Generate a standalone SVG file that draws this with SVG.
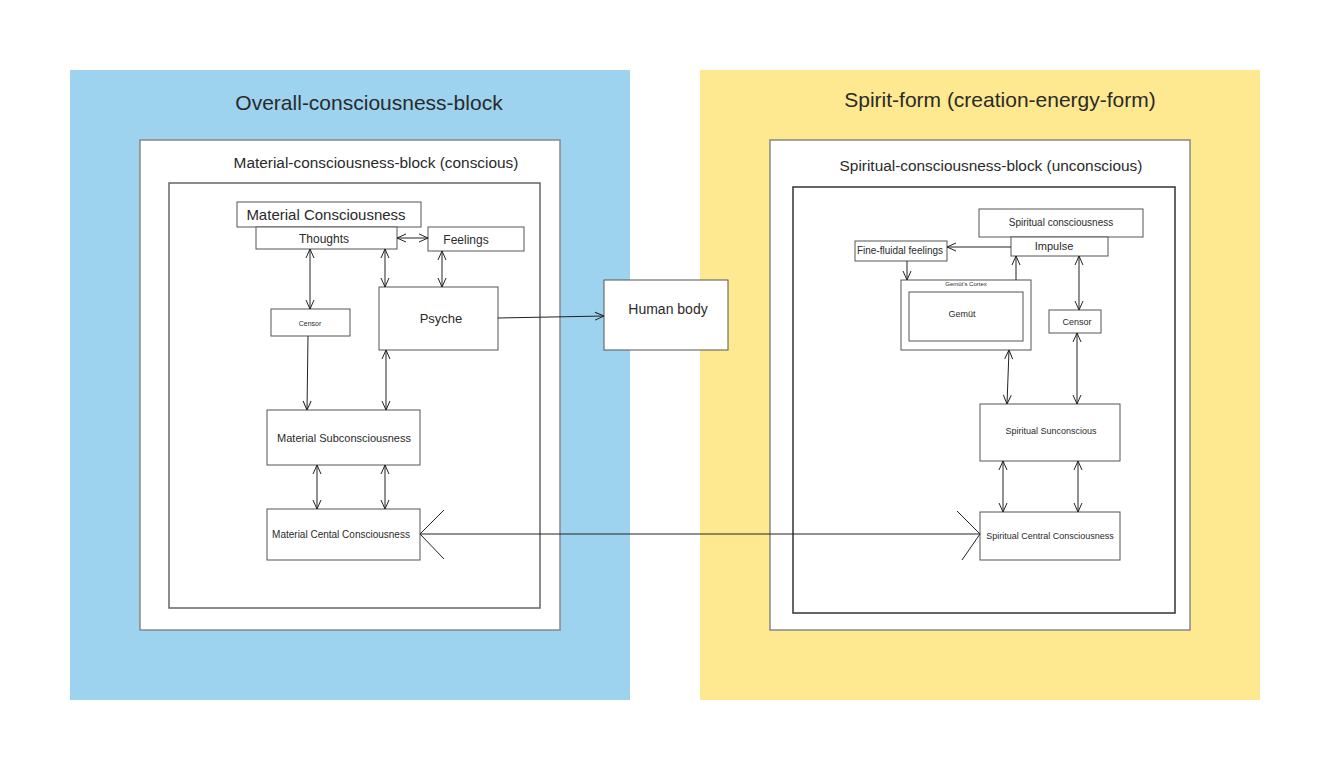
<svg xmlns="http://www.w3.org/2000/svg" width="1330" height="770" viewBox="0 0 1330 770">
<style>
text{font-family:"Liberation Sans",Arial,sans-serif;fill:#2a2a2a;text-anchor:middle}
.box{fill:#fff;stroke:#555;stroke-width:1}
.blk{fill:#fff;stroke:#888;stroke-width:1.5}
.c{fill:none;stroke:#222;stroke-width:1}
.big{fill:none;stroke:#222;stroke-width:1}
</style>
<defs>
<marker id="a" viewBox="0 0 10 10" refX="10" refY="5" markerWidth="10" markerHeight="10" markerUnits="userSpaceOnUse" orient="auto-start-reverse">
<path d="M1,1 L10,5 L1,9" fill="none" stroke="#222" stroke-width="1"/>
</marker>
</defs>
<rect width="1330" height="770" fill="#fff"/>
<g id="overall-block">
<rect x="70" y="70" width="560" height="630" fill="#9DD3EF"/>
<text x="369" y="110" font-size="21" fill="#333">Overall-consciousness-block</text>
</g>
<g id="spirit-form">
<rect x="700" y="70" width="560" height="630" fill="#FFE990"/>
<text x="1000" y="107" font-size="21">Spirit-form (creation-energy-form)</text>
</g>
<g id="material-block">
<rect class="blk" x="140" y="140" width="420" height="490"/>
<text x="376" y="168" font-size="15.4">Material-consciousness-block (conscious)</text>
<rect x="169" y="183" width="371" height="425" fill="#fff" stroke="#666" stroke-width="1.5"/>
</g>
<g id="spiritual-block">
<rect class="blk" x="770" y="140" width="420" height="490"/>
<text x="991" y="171" font-size="15.4">Spiritual-consciousness-block (unconscious)</text>
<rect x="793" y="187" width="382" height="426" fill="#fff" stroke="#333" stroke-width="1.5"/>
</g>
<g id="material-consciousness"><rect class="box" x="237" y="202" width="184" height="25"/><text x="326" y="220" font-size="15">Material Consciousness</text></g>
<g id="thoughts"><rect class="box" x="256" y="227" width="141" height="22"/><text x="324" y="243" font-size="12">Thoughts</text></g>
<g id="feelings"><rect class="box" x="428" y="227" width="96" height="24"/><text x="466" y="244" font-size="12">Feelings</text></g>
<g id="psyche"><rect class="box" x="379" y="287" width="119" height="63"/><text x="441" y="323" font-size="13">Psyche</text></g>
<g id="censor-m"><rect class="box" x="271" y="309" width="79" height="27"/><text x="310" y="326" font-size="7">Censor</text></g>
<g id="material-subconsciousness"><rect class="box" x="267" y="410" width="153" height="55"/><text x="344" y="442" font-size="11">Material Subconsciousness</text></g>
<g id="material-central"><rect class="box" x="267" y="509" width="153" height="51"/><text x="341" y="538" font-size="10">Material Cental Consciousness</text></g>
<g id="human-body"><rect class="box" x="604" y="280" width="124" height="70"/><text x="668" y="314" font-size="14">Human body</text></g>
<g id="spiritual-consciousness"><rect class="box" x="979" y="209" width="164" height="28"/><text x="1061" y="226" font-size="10">Spiritual consciousness</text></g>
<g id="impulse"><rect class="box" x="1011" y="237" width="97" height="19"/><text x="1054" y="250" font-size="11">Impulse</text></g>
<g id="fine-fluidal"><rect class="box" x="855" y="241" width="92" height="20"/><text x="900" y="254" font-size="10">Fine-fluidal feelings</text></g>
<g id="gemuts-cortex"><rect class="box" x="901" y="280" width="130" height="70"/><text x="966" y="286" font-size="6">Gemüt's Cortex</text><rect class="box" x="909" y="292" width="114" height="49"/><text x="962" y="317" font-size="9">Gemüt</text></g>
<g id="censor-s"><rect class="box" x="1049" y="310" width="52" height="23"/><text x="1077" y="325" font-size="9">Censor</text></g>
<g id="spiritual-sunconscious"><rect class="box" x="980" y="404" width="140" height="57"/><text x="1051" y="434" font-size="9">Spiritual Sunconscious</text></g>
<g id="spiritual-central"><rect class="box" x="980" y="512" width="140" height="48"/><text x="1050" y="539" font-size="9">Spiritual Central Consciousness</text></g>
<g id="connectors">
<line class="c" x1="397" y1="238" x2="428" y2="238" marker-start="url(#a)" marker-end="url(#a)"/>
<line class="c" x1="310" y1="249" x2="310" y2="309" marker-start="url(#a)" marker-end="url(#a)"/>
<line class="c" x1="385" y1="249" x2="385" y2="287" marker-start="url(#a)" marker-end="url(#a)"/>
<line class="c" x1="442" y1="251" x2="442" y2="287" marker-start="url(#a)" marker-end="url(#a)"/>
<line class="c" x1="308" y1="336" x2="307" y2="410" marker-end="url(#a)"/>
<line class="c" x1="386" y1="350" x2="386" y2="410" marker-start="url(#a)" marker-end="url(#a)"/>
<line class="c" x1="317" y1="465" x2="317" y2="509" marker-start="url(#a)" marker-end="url(#a)"/>
<line class="c" x1="385" y1="465" x2="385" y2="509" marker-start="url(#a)" marker-end="url(#a)"/>
<line class="c" x1="498" y1="318" x2="604" y2="316" marker-end="url(#a)"/>
<line class="big" x1="420" y1="534" x2="980" y2="534"/>
<path class="big" d="M444,510 L420,534 L444,559"/>
<path class="big" d="M957,511 L980,534 L962,560"/>
<line class="c" x1="1011" y1="247" x2="947" y2="247" marker-end="url(#a)"/>
<line class="c" x1="907" y1="261" x2="907" y2="280" marker-end="url(#a)"/>
<line class="c" x1="1016" y1="280" x2="1016" y2="256" marker-end="url(#a)"/>
<line class="c" x1="1079" y1="256" x2="1079" y2="310" marker-start="url(#a)" marker-end="url(#a)"/>
<line class="c" x1="1077" y1="333" x2="1077" y2="404" marker-start="url(#a)" marker-end="url(#a)"/>
<line class="c" x1="1009" y1="350" x2="1007" y2="404" marker-start="url(#a)" marker-end="url(#a)"/>
<line class="c" x1="1003" y1="461" x2="1003" y2="512" marker-start="url(#a)" marker-end="url(#a)"/>
<line class="c" x1="1078" y1="461" x2="1078" y2="512" marker-start="url(#a)" marker-end="url(#a)"/>
</g>
</svg>
